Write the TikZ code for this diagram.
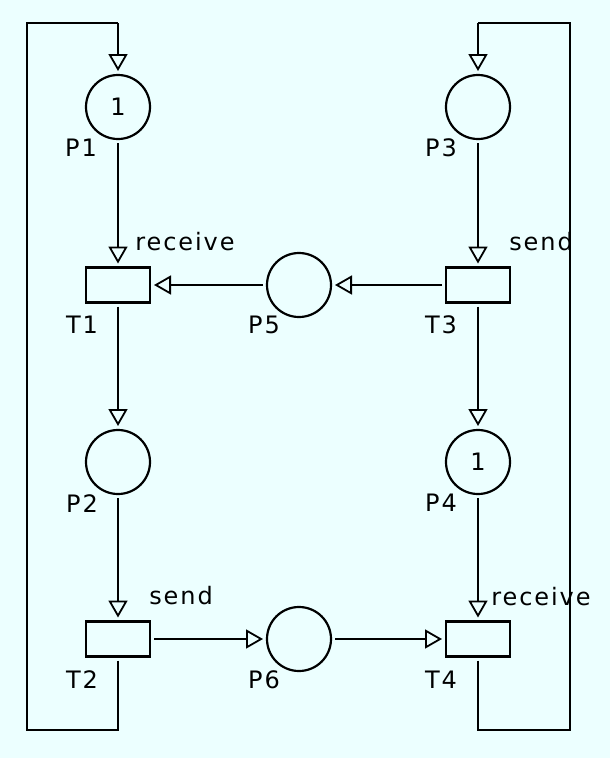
\documentclass[tikz,border=0pt]{standalone}
\usepackage{fontspec}
\newfontfamily\netfont[LetterSpace=8]{DejaVu Sans}
\usetikzlibrary{arrows.meta}
\definecolor{netbg}{RGB}{236,255,255}

\tikzset{
  place/.style={circle, draw, line width=2.2pt, minimum size=64pt, inner sep=0pt, outer sep=4pt, font=\netfont\fontsize{24}{26}\selectfont},
  transition/.style={rectangle, draw, line width=2.2pt, minimum width=64pt, minimum height=35pt, inner sep=0pt, outer sep=4pt},
  arc/.style={line width=2.3pt, -{Triangle[open, length=17pt, width=19pt, line width=1.8pt]}},
  loopline/.style={line width=2.3pt},
  tag/.style={font=\netfont\fontsize{24}{26}\selectfont, inner sep=0pt},
}

\begin{document}
\begin{tikzpicture}[x=1pt, y=-1pt]

%background
\fill[netbg] (0,0) rectangle (610,758);
\useasboundingbox (0,0) rectangle (610,758);

%places
\node[place] (P1) at (118,107) {1};
\node[place] (P2) at (118,462) {};
\node[place] (P3) at (478,107) {};
\node[place] (P4) at (478,462) {1};
\node[place] (P5) at (299,285) {};
\node[place] (P6) at (299,639) {};

%transitions
\node[transition] (T1) at (118,285) {};
\node[transition] (T2) at (118,639) {};
\node[transition] (T3) at (478,285) {};
\node[transition] (T4) at (478,639) {};

%names
\node[tag] (lP1) at (81,148) {P1};
\node[tag] (lP2) at (82,504) {P2};
\node[tag] (lP3) at (441,148) {P3};
\node[tag] (lP4) at (441,503) {P4};
\node[tag] (lP5) at (264,325) {P5};
\node[tag] (lP6) at (264,680) {P6};
\node[tag] (lT1) at (82,325) {T1};
\node[tag] (lT2) at (82,680) {T2};
\node[tag] (lT3) at (441,325) {T3};
\node[tag] (lT4) at (441,680) {T4};

%actions
\node[tag, anchor=base] (aT1) at (185,250) {receive};
\node[tag, anchor=base] (aT2) at (181,604) {send};
\node[tag, anchor=base] (aT3) at (541,250) {send};
\node[tag, anchor=base] (aT4) at (541,605) {receive};

%arcs
\draw[arc] (P1) -- (T1);
\draw[arc] (T1) -- (P2);
\draw[arc] (P2) -- (T2);
\draw[arc] (T2) -- (P6);
\draw[arc] (P6) -- (T4);
\draw[arc] (P3) -- (T3);
\draw[arc] (T3) -- (P4);
\draw[arc] (P4) -- (T4);
\draw[arc] (T3) -- (P5);
\draw[arc] (P5) -- (T1);

%loops back to the top
\coordinate (L1) at (27,730);
\coordinate (L2) at (27,23);
\coordinate (R1) at (570,730);
\coordinate (R2) at (570,23);
\draw[loopline] (T2.south) -- (T2.south |- L1) -- (L1) -- (L2) -- (P1.north |- L2);
\draw[arc] (P1.north |- L2) -- (P1.north);
\draw[loopline] (T4.south) -- (T4.south |- R1) -- (R1) -- (R2) -- (P3.north |- R2);
\draw[arc] (P3.north |- R2) -- (P3.north);

\end{tikzpicture}
\end{document}
